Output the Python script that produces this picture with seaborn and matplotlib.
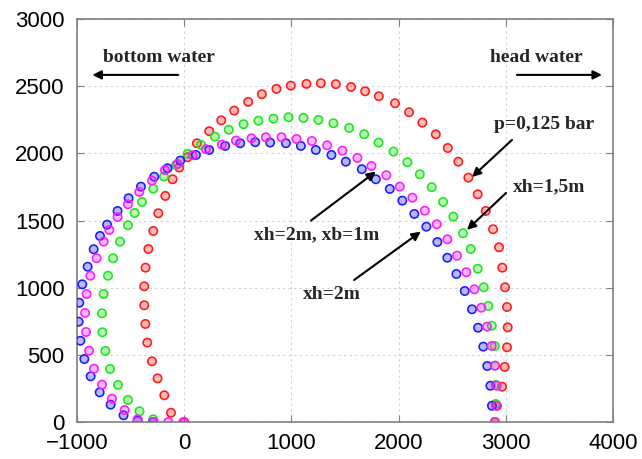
import pandas as pd
import matplotlib
matplotlib.use('Agg')
import matplotlib.pyplot as plt
import seaborn as sns

# Point data (m-ish units, one list per series)
red_x = [0, -124, -186, -249, -301, -345, -363, -373, -373, -361, -335, -289, -242, -177, -109, -47,
         31, 118, 233, 345, 466, 596, 724, 860, 994, 1140, 1274, 1414, 1556, 1687, 1815, 1966, 2097,
         2221, 2346, 2458, 2556, 2650, 2737, 2812, 2880, 2936, 2966, 2992, 3010, 3017, 3010, 2989,
         2964, 2917, 2900]
red_y = [0, 69, 199, 325, 452, 591, 730, 869, 1010, 1149, 1288, 1422, 1554, 1683, 1807, 1894,
         1971, 2075, 2165, 2246, 2318, 2383, 2440, 2480, 2504, 2517, 2522, 2515, 2494, 2462, 2425,
         2373, 2306, 2229, 2142, 2040, 1938, 1819, 1695, 1571, 1435, 1301, 1149, 1003, 856, 705,
         556, 410, 263, 121, 0]

green_x = [-290, -417, -525, -618, -692, -736, -764, -767, -752, -711, -664, -599, -525, -463, -394,
           -289, -189, -77, 31, 156, 286, 415, 553, 692, 832, 972, 1112, 1252, 1391, 1538, 1678,
           1812, 1951, 2081, 2197, 2308, 2414, 2510, 2600, 2672, 2737, 2793, 2836, 2868, 2896,
           2898, 2905, 2905, 2898]
green_y = [20, 80, 164, 276, 395, 529, 668, 809, 953, 1089, 1219, 1343, 1465, 1556, 1638, 1737,
           1827, 1914, 1996, 2063, 2124, 2176, 2217, 2243, 2258, 2269, 2264, 2249, 2224, 2189, 2142,
           2080, 2013, 1934, 1844, 1748, 1638, 1529, 1405, 1288, 1141, 1003, 864, 717, 566, 419,
           276, 134, 0]

blue_x = [-290, -435, -566, -687, -789, -873, -932, -969, -985, -979, -951, -901, -845, -786, -720,
          -622, -519, -404, -280, -156, -37, 109, 233, 382, 522, 662, 801, 948, 1088, 1227, 1373,
          1507, 1656, 1787, 1917, 2034, 2146, 2258, 2361, 2454, 2538, 2616, 2684, 2740, 2789,
          2826, 2855, 2870]
blue_y = [0, 10, 50, 129, 221, 340, 469, 605, 747, 888, 1025, 1156, 1286, 1385, 1469, 1571, 1666,
          1752, 1826, 1889, 1946, 1988, 2025, 2055, 2075, 2083, 2080, 2075, 2055, 2025, 1988, 1938,
          1882, 1807, 1735, 1648, 1549, 1454, 1340, 1223, 1102, 975, 839, 702, 561, 417, 270, 121]

magenta_x = [-9, -149, -286, -435, -556, -674, -767, -842, -888, -916, -925, -911, -876, -817, -752,
             -699, -622, -525, -419, -301, -180, -62, 77, 202, 351, 482, 627, 761, 907, 1047, 1190,
             1333, 1475, 1615, 1746, 1885, 2010, 2128, 2243, 2355, 2454, 2544, 2631, 2706, 2771,
             2824, 2868, 2898, 2914, 2908, 2896]
magenta_y = [0, 0, 0, 20, 89, 173, 278, 397, 531, 670, 812, 953, 1089, 1219, 1343, 1430, 1526, 1621,
             1713, 1797, 1876, 1921, 1986, 2031, 2065, 2095, 2112, 2120, 2120, 2107, 2092, 2060,
             2020, 1966, 1906, 1837, 1752, 1670, 1573, 1472, 1360, 1238, 1115, 988, 851, 710, 566,
             419, 270, 121, 0]

series = {
    'p=0,125 bar': (red_x, red_y),
    'xh=1,5m': (green_x, green_y),
    'xh=2m': (blue_x, blue_y),
    'xh=2m, xb=1m': (magenta_x, magenta_y),
}
colors = ['#ff1a1a', '#1ae61a', '#1a1aff', '#ff1aff']

frames = []
for name, (xs, ys) in series.items():
    frames.append(pd.DataFrame({'x': xs, 'y': ys, 'series': name}))
df = pd.concat(frames, ignore_index=True)

sns.set_style('ticks')
plt.rcParams['font.family'] = ['Liberation Sans', 'DejaVu Sans']

fig = plt.figure(figsize=(6.42, 4.59), dpi=100)
ax = fig.add_axes([0.12, 0.0806, 0.835, 0.878])

sns.scatterplot(data=df, x='x', y='y', hue='series', palette=colors, marker='o',
                s=36, linewidth=1.15, legend=False, ax=ax, zorder=3)

# ring markers with a pale centre
for coll in ax.collections:
    fc = coll.get_facecolors().copy()
    coll.set_edgecolors(fc.copy())
    fc[:, 3] = 0.3
    coll.set_facecolors(fc)

ax.set_xlim(-1000, 4000)
ax.set_ylim(0, 3000)
ax.set_xticks([-1000, 0, 1000, 2000, 3000, 4000])
ax.set_yticks([0, 500, 1000, 1500, 2000, 2500, 3000])
ax.set_xlabel('')
ax.set_ylabel('')
ax.grid(True, linestyle=(0, (2, 3)), color='#d0d0d0', linewidth=0.8)
for sp in ax.spines.values():
    sp.set_color('#808080')
    sp.set_linewidth(1.2)
ax.tick_params(direction='in', top=True, right=True, length=5, color='#808080',
               labelsize=16, labelcolor='black')
ax.tick_params(axis='x', pad=8)
ax.tick_params(axis='y', pad=9)

tfont = dict(family=['Liberation Serif', 'DejaVu Serif'], fontweight='bold', fontsize=14)
arrow = dict(arrowstyle='-|>', color='black', lw=1.5, mutation_scale=13, shrinkA=0, shrinkB=0)

ax.text(-233, 2710, 'bottom water', ha='center', va='center', **tfont)
ax.annotate('', xy=(-857, 2584), xytext=(-56, 2584), arrowprops=arrow)
ax.text(3285, 2710, 'head water', ha='center', va='center', **tfont)
ax.annotate('', xy=(3896, 2584), xytext=(3103, 2584), arrowprops=arrow)

ax.text(3355, 2211, 'p=0,125 bar', ha='center', va='center', **tfont)
ax.annotate('', xy=(2684, 1824), xytext=(3057, 2100), arrowprops=arrow)
ax.text(3402, 1750, 'xh=1,5m', ha='center', va='center', **tfont)
ax.annotate('', xy=(2637, 1430), xytext=(3001, 1705), arrowprops=arrow)
ax.text(1230, 1392, 'xh=2m, xb=1m', ha='center', va='center', **tfont)
ax.annotate('', xy=(1787, 1864), xytext=(1181, 1499), arrowprops=arrow)
ax.text(1375, 946, 'xh=2m', ha='center', va='center', **tfont)
ax.annotate('', xy=(2206, 1417), xytext=(1584, 1057), arrowprops=arrow)

fig.savefig('out.png', dpi=100)
plt.close(fig)
